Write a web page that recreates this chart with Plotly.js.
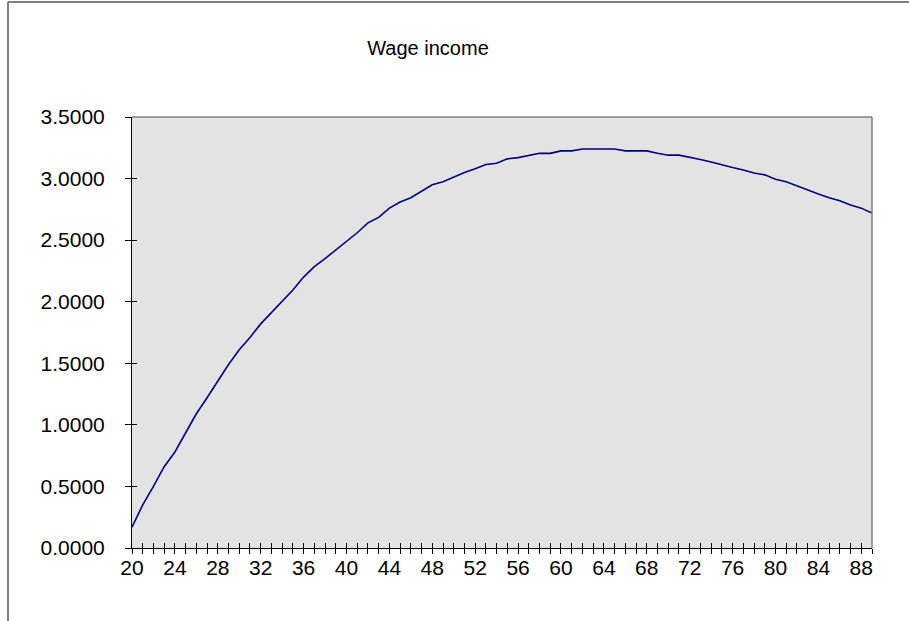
<!DOCTYPE html>
<html>
<head>
<meta charset="utf-8">
<script src="https://cdn.plot.ly/plotly-3.0.1.min.js"></script>
<style>html,body{margin:0;padding:0;background:#fff;}#chart{width:909px;height:621px;}</style>
</head>
<body>
<div id="chart"></div>
<script>
const ages = [20,21,22,23,24,25,26,27,28,29,30,31,32,33,34,35,36,37,38,39,40,41,42,43,44,45,46,47,48,49,50,51,52,53,54,55,56,57,58,59,60,61,62,63,64,65,66,67,68,69,70,71,72,73,74,75,76,77,78,79,80,81,82,83,84,85,86,87,88,89];
const wageIncome = [0.17,0.35,0.50,0.66,0.78,0.93,1.09,1.22,1.36,1.49,1.61,1.71,1.82,1.91,2.00,2.095,2.20,2.285,2.35,2.42,2.49,2.56,2.64,2.685,2.76,2.81,2.845,2.90,2.95,2.975,3.015,3.05,3.08,3.115,3.125,3.16,3.17,3.19,3.205,3.205,3.225,3.225,3.24,3.24,3.24,3.24,3.225,3.225,3.225,3.205,3.19,3.19,3.175,3.155,3.135,3.11,3.09,3.07,3.045,3.03,2.995,2.975,2.94,2.91,2.875,2.845,2.82,2.785,2.76,2.72];
const xTickVals = [20,24,28,32,36,40,44,48,52,56,60,64,68,72,76,80,84,88];
const yTickVals = [0,0.5,1,1.5,2,2.5,3,3.5];
const titleText = "Wage income";

const font = {family: "Arial, 'Liberation Sans', sans-serif", size: 21, color: "#000"};
const traces = [
  {x: ages, y: wageIncome, type: "scatter", mode: "lines", line: {color: "#000080", width: 1.6}, hoverinfo: "skip"},
  {x: ages, y: wageIncome, xaxis: "x2", yaxis: "y2", type: "scatter", mode: "lines", line: {width: 0, color: "rgba(0,0,0,0)"}, hoverinfo: "skip", showlegend: false}
];
const layout = {
  width: 909, height: 621,
  margin: {l: 132, r: 37, t: 117, b: 73},
  paper_bgcolor: "#fff", plot_bgcolor: "#e3e3e3",
  showlegend: false,
  font: font,
  title: {text: titleText, font: {family: font.family, size: 20, color: "#000"}, x: 428/909, xref: "container", xanchor: "center", y: 1 - 48/621, yref: "container", yanchor: "middle"},
  xaxis: {range: [20, 89], tickmode: "array", tickvals: xTickVals, ticks: "outside", ticklen: 5, tickcolor: "#000", tickwidth: 1,
          minor: {dtick: 1, tick0: 20, ticks: "outside", ticklen: 5, tickcolor: "#000", tickwidth: 1},
          showgrid: false, zeroline: false, showline: true, linecolor: "#000", linewidth: 1,
          tickfont: font, ticklabelstandoff: -4, fixedrange: true},
  yaxis: {range: [0, 3.5], tickmode: "array", tickvals: yTickVals, tickformat: ".4f", ticks: "outside", ticklen: 6, tickcolor: "#000", tickwidth: 1,
          showgrid: false, zeroline: false, showline: true, linecolor: "#000", linewidth: 1,
          tickfont: font, ticklabelstandoff: 16, fixedrange: true},
  xaxis2: {overlaying: "x", anchor: "y2", side: "bottom", range: [20, 89], tickmode: "linear", dtick: 1, tick0: 20, ticks: "inside", ticklen: 5, tickcolor: "#000", tickwidth: 1, showticklabels: false, showgrid: false, zeroline: false, showline: false, fixedrange: true},
  yaxis2: {overlaying: "y", anchor: "x2", side: "left", range: [0, 3.5], tickmode: "linear", dtick: 0.5, tick0: 0, ticks: "inside", ticklen: 5, tickcolor: "#000", tickwidth: 1, showticklabels: false, showgrid: false, zeroline: false, showline: false, fixedrange: true},
  shapes: [
    {type: "line", xref: "paper", yref: "paper", x0: 0, x1: 1, y0: 1, y1: 1, line: {color: "#808080", width: 1.5}},
    {type: "line", xref: "paper", yref: "paper", x0: 1, x1: 1, y0: 0, y1: 1, line: {color: "#808080", width: 1.5}},
    {type: "line", xref: "paper", yref: "paper", x0: (8-132)/740, x1: (8-132)/740, y0: (548-621)/431, y1: (548-2)/431, line: {color: "#808080", width: 2}},
    {type: "line", xref: "paper", yref: "paper", x0: (8-132)/740, x1: (909-132)/740, y0: (548-2)/431, y1: (548-2)/431, line: {color: "#808080", width: 2}}
  ]
};
Plotly.newPlot("chart", traces, layout, {displayModeBar: false, staticPlot: true});
</script>
</body>
</html>
